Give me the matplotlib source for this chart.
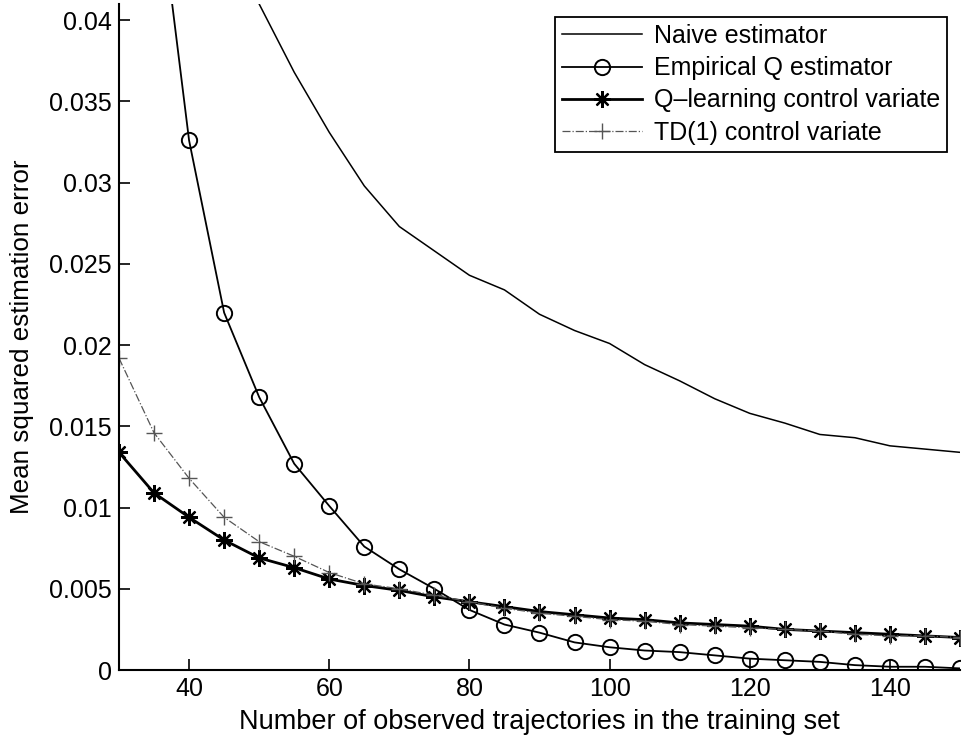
import matplotlib.pyplot as plt
import numpy as np

plt.rcParams["font.family"] = ["Liberation Sans", "DejaVu Sans"]

n_traj = [30, 35, 40, 45, 50, 55, 60, 65, 70, 75, 80, 85, 90, 95, 100,
          105, 110, 115, 120, 125, 130, 135, 140, 145, 150]

naive = [0.072, 0.060, 0.052, 0.0465, 0.0410, 0.0368, 0.0331, 0.0298, 0.0273,
         0.0258, 0.0243, 0.0234, 0.0219, 0.0209, 0.0201, 0.0188, 0.0178, 0.0167,
         0.0158, 0.0152, 0.0145, 0.0143, 0.0138, 0.0136, 0.0134]
empirical_q = [0.080, 0.050, 0.0326, 0.0220, 0.0168, 0.0127, 0.0101, 0.0076,
               0.0062, 0.0050, 0.0037, 0.0028, 0.0023, 0.0017, 0.0014, 0.0012,
               0.0011, 0.0009, 0.0007, 0.0006, 0.0005, 0.0003, 0.0002, 0.0002,
               0.0001]
q_learning = [0.0134, 0.0109, 0.0094, 0.0080, 0.0069, 0.0063, 0.0056, 0.0052,
              0.0049, 0.0045, 0.0042, 0.0039, 0.0036, 0.0034, 0.0032, 0.0031,
              0.0029, 0.0028, 0.0027, 0.0025, 0.0024, 0.0023, 0.0022, 0.0021,
              0.0020]
td1 = [0.0192, 0.0146, 0.0118, 0.0094, 0.0079, 0.0070, 0.0060, 0.0053,
       0.0050, 0.0046, 0.0042, 0.0038, 0.0035, 0.0033, 0.0031, 0.0030,
       0.0028, 0.0027, 0.0026, 0.0025, 0.0024, 0.0022, 0.0021, 0.0021,
       0.0020]

x = np.array(n_traj)

fig = plt.figure(figsize=(9.69, 7.42), dpi=100)
ax = fig.add_axes([119 / 969, 72 / 742, (960 - 119) / 969, (670 - 4) / 742])

ax.plot(x, naive, "-", color="black", lw=1.1, label="Naive estimator")
ax.plot(x, empirical_q, "-", color="black", lw=1.3, marker="o", ms=11,
        mfc="none", mew=1.4, label="Empirical Q estimator")
ax.plot(x, q_learning, "-", color="black", lw=2.0, marker=(8, 2, 0), ms=12,
        mew=1.6, label="Q\u2013learning control variate")
ax.plot(x, td1, "-.", color="#555555", lw=0.9, marker="+", ms=11, mew=1.0,
        label="TD(1) control variate")

ax.set_xlim(30, 150)
ax.set_ylim(0, 0.041)
ax.set_xticks([40, 60, 80, 100, 120, 140])
ax.set_yticks([0, 0.005, 0.01, 0.015, 0.02, 0.025, 0.03, 0.035, 0.04])
ax.set_yticklabels(["0", "0.005", "0.01", "0.015", "0.02", "0.025", "0.03",
                    "0.035", "0.04"])
ax.tick_params(direction="in", length=8, width=1.2, labelsize=18, pad=5)
ax.spines["top"].set_visible(False)
ax.spines["right"].set_visible(False)
ax.spines["left"].set_linewidth(1.5)
ax.spines["bottom"].set_linewidth(1.5)

ax.set_xlabel("Number of observed trajectories in the training set",
              fontsize=19.5, labelpad=6)
ax.set_ylabel("Mean squared estimation error", fontsize=18.7)
ax.yaxis.set_label_coords(-0.101, 0.5)

leg = ax.legend(loc="upper right", fontsize=18, numpoints=1, handlelength=3.2,
                handletextpad=0.45, labelspacing=0.33, borderaxespad=0.5,
                fancybox=False, framealpha=1, edgecolor="black",
                borderpad=0.3)
leg.get_frame().set_linewidth(1.3)

fig.savefig("out.png", dpi=100)
